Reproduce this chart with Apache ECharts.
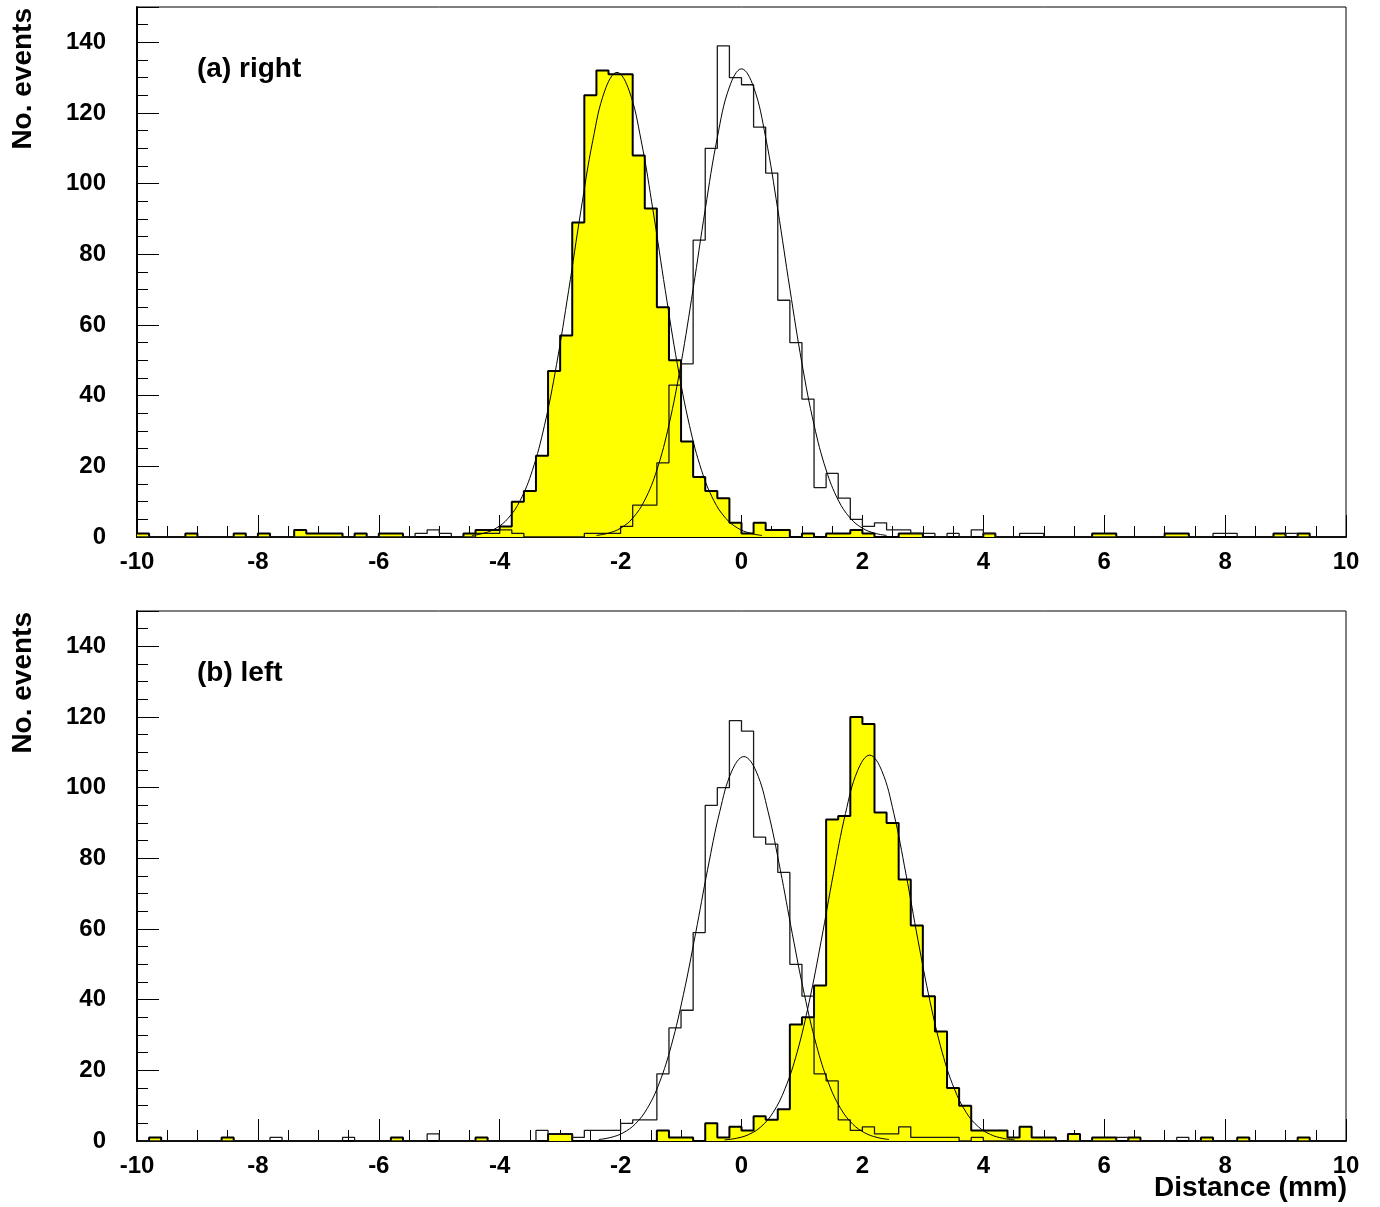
<!DOCTYPE html>
<html><head><meta charset="utf-8">
<script src="https://cdn.jsdelivr.net/npm/echarts@6/dist/echarts.min.js"></script>
<style>html,body{margin:0;padding:0;background:#fff}#c{width:1380px;height:1207px}</style>
</head><body><div id="c"></div>
<script>
// ---- binning ----
const xMin = -10, xMax = 10, binWidth = 0.2;
const xLabelInterval = 2, yLabelInterval = 20, yMax = 150;

// ---- (a) right : counts per 0.2 mm bin, from -10 to 10 ----
const topFilled = [
  1,0,0,0,1,0,0,0,1,0,
  1,0,0,2,1,1,1,0,1,0,
  1,1,0,0,0,0,0,1,2,2,
  3,10,13,23,47,57,89,125,132,131,
  131,108,93,65,50,27,17,13,11,4,
  1,4,2,2,0,1,0,1,1,2,
  1,0,0,1,1,0,0,0,0,0,
  1,0,0,0,0,0,0,0,0,1,
  1,0,0,0,0,1,1,0,0,0,
  0,0,0,0,1,0,1,0,0,0
];
const topOpen = [
  0,0,0,0,0,0,0,0,0,0,
  0,0,0,0,0,0,0,0,0,0,
  0,0,0,1,2,1,0,0,1,1,
  2,1,0,0,0,0,0,1,1,1,
  3,9,9,21,43,49,84,110,139,130,
  128,116,103,67,55,39,14,18,11,5,
  3,4,2,2,1,1,0,1,0,2,
  1,0,0,1,1,0,0,0,0,0,
  0,0,0,0,0,0,0,0,0,1,
  1,0,0,0,0,1,0,0,0,0
];
// ---- (b) left ----
const botFilled = [
  0,1,0,0,0,0,0,1,0,0,
  0,0,0,0,0,0,0,0,0,0,
  0,1,0,0,0,0,0,0,1,0,
  0,0,0,0,2,2,0,0,0,0,
  0,0,0,3,1,1,0,5,1,4,
  3,7,6,9,33,35,44,91,92,120,
  118,93,90,74,61,41,31,15,10,3,
  3,3,1,4,1,1,0,2,0,1,
  1,0,1,0,0,0,0,0,1,0,
  0,1,0,0,0,0,1,0,0,0
];
const botOpen = [
  0,0,0,0,0,0,0,0,0,0,
  0,1,0,0,0,0,0,1,0,0,
  0,0,0,0,2,0,0,0,0,0,
  0,0,0,3,2,2,1,3,3,3,
  5,6,6,19,32,37,59,95,100,119,
  116,86,84,76,50,41,19,17,6,3,
  4,2,2,4,1,1,1,1,0,1,
  0,0,0,0,0,0,0,0,0,0,
  0,1,0,0,0,0,1,0,0,0,
  0,0,0,0,0,0,0,0,0,0
];

// ---- fitted curves, points ----
const topFitFilled = [[-4.46,0.43],[-4.26,1.08],[-4.06,2.49],[-3.86,5.29],[-3.66,10.38],[-3.46,18.82],[-3.26,31.52],[-3.06,48.77],[-2.86,69.71],[-2.66,92.01],[-2.46,112.21],[-2.26,126.38],[-2.06,131.5],[-1.86,126.38],[-1.66,112.21],[-1.46,92.01],[-1.26,69.71],[-1.06,48.77],[-0.86,31.52],[-0.66,18.82],[-0.46,10.38],[-0.26,5.29],[-0.06,2.49],[0.14,1.08],[0.34,0.43]];
const topFitOpen = [[-2.4,0.44],[-2.2,1.09],[-2.0,2.50],[-1.8,5.33],[-1.6,10.45],[-1.4,18.96],[-1.2,31.76],[-1.0,49.14],[-0.8,70.24],[-0.6,92.71],[-0.4,113.06],[-0.2,127.35],[0,132.5],[0.2,127.35],[0.4,113.06],[0.6,92.71],[0.8,70.24],[1.0,49.14],[1.2,31.76],[1.4,18.96],[1.6,10.45],[1.8,5.33],[2.0,2.50],[2.2,1.09],[2.4,0.44]];
const botFitOpen = [[-2.36,0.42],[-2.16,1.02],[-1.96,2.30],[-1.76,4.78],[-1.56,9.2],[-1.36,16.4],[-1.16,27.1],[-0.96,41.5],[-0.76,58.7],[-0.56,76.9],[-0.36,93.2],[-0.16,104.7],[0.04,108.8],[0.24,104.7],[0.44,93.2],[0.64,76.9],[0.84,58.7],[1.04,41.5],[1.24,27.1],[1.44,16.4],[1.64,9.2],[1.84,4.78],[2.04,2.30],[2.24,1.02],[2.44,0.42]];
const botFitFilled = [[-0.28,0.31],[-0.08,0.78],[0.12,1.84],[0.32,4.0],[0.52,8.0],[0.72,14.8],[0.92,25.1],[1.12,39.4],[1.32,56.8],[1.52,75.6],[1.72,92.7],[1.92,104.8],[2.12,109.2],[2.32,104.8],[2.52,92.7],[2.72,75.6],[2.92,56.8],[3.12,39.4],[3.32,25.1],[3.52,14.8],[3.72,8.0],[3.92,4.0],[4.12,1.84],[4.32,0.78],[4.52,0.31]];

// ---- texts ----
const panelLabels = ['(a) right', '(b) left'];
const yTitle = 'No. events';
const xTitle = 'Distance (mm)';

const FONT = '"Liberation Sans", Arial, Helvetica, sans-serif';

function histPoints(counts) {
  const pts = [];
  for (let i = 0; i < counts.length; i++) {
    pts.push([+(xMin + i * binWidth).toFixed(2), counts[i]]);
  }
  pts.push([xMax, counts[counts.length - 1]]);
  return pts;
}

const grids = [
  {left: 137, top: 7, width: 1209, height: 530},
  {left: 137, top: 611, width: 1209, height: 530}
].map(g => Object.assign(g, {show: true, borderColor: '#000', borderWidth: 1, backgroundColor: 'transparent'}));

function mainX(g) {
  return {
    gridIndex: g, type: 'value', min: xMin, max: xMax, interval: xLabelInterval, position: 'bottom',
    axisLine: {show: true, onZero: false, lineStyle: {color: '#000', width: 2}},
    axisTick: {show: true, inside: true, length: 22, lineStyle: {color: '#000', width: 1}},
    minorTick: {show: true, splitNumber: 4, length: 11, lineStyle: {color: '#000', width: 1}},
    axisLabel: {show: true, margin: 13, color: '#000', fontSize: 24, fontWeight: 'bold', fontFamily: FONT},
    splitLine: {show: false}, minorSplitLine: {show: false}
  };
}
function mainY(g) {
  return {
    gridIndex: g, type: 'value', min: 0, max: yMax, interval: yLabelInterval, position: 'left',
    axisLine: {show: true, onZero: false, lineStyle: {color: '#000', width: 2}},
    axisTick: {show: true, inside: true, length: 22, lineStyle: {color: '#000', width: 1}},
    axisLabel: {show: true, margin: 31, color: '#000', fontSize: 24, fontWeight: 'bold', fontFamily: FONT,
      formatter: v => (v % yLabelInterval === 0 ? String(v) : '')},
    splitLine: {show: false}
  };
}
function minorY(g) {
  return {
    gridIndex: g, type: 'value', min: 0, max: yMax, interval: 5, position: 'left',
    axisLine: {show: false, onZero: false},
    axisTick: {show: true, inside: true, length: 11, lineStyle: {color: '#000', width: 1}},
    axisLabel: {show: false}, splitLine: {show: false}
  };
}

function panelSeries(xi, yi, filled, open, fitF, fitO) {
  return [
    {type: 'line', xAxisIndex: xi, yAxisIndex: yi, data: histPoints(filled), step: 'end', symbol: 'none',
     lineStyle: {color: '#000', width: 2}, areaStyle: {color: '#ffff00', opacity: 1}, z: 2, silent: true},
    {type: 'line', xAxisIndex: xi, yAxisIndex: yi, data: histPoints(open), step: 'end', symbol: 'none',
     lineStyle: {color: '#1a1a1a', width: 1.3}, z: 3, silent: true},
    {type: 'line', xAxisIndex: xi, yAxisIndex: yi, data: fitF, smooth: 0.4, symbol: 'none',
     lineStyle: {color: '#000', width: 1}, z: 4, silent: true},
    {type: 'line', xAxisIndex: xi, yAxisIndex: yi, data: fitO, smooth: 0.4, symbol: 'none',
     lineStyle: {color: '#000', width: 1}, z: 4, silent: true}
  ];
}

const option = {
  animation: false,
  backgroundColor: '#fff',
  grid: grids,
  xAxis: [mainX(0), mainX(1)],
  yAxis: [mainY(0), minorY(0), mainY(1), minorY(1)],
  series: [].concat(
    panelSeries(0, 0, topFilled, topOpen, topFitFilled, topFitOpen),
    panelSeries(1, 2, botFilled, botOpen, botFitFilled, botFitOpen)
  ),
  graphic: [
    {type: 'text', x: 23, y: 8, rotation: Math.PI / 2,
     style: {text: yTitle, fill: '#000', font: 'bold 28px ' + FONT, align: 'right', verticalAlign: 'middle'}},
    {type: 'text', x: 23, y: 612, rotation: Math.PI / 2,
     style: {text: yTitle, fill: '#000', font: 'bold 28px ' + FONT, align: 'right', verticalAlign: 'middle'}},
    {type: 'text', x: 197, y: 69,
     style: {text: panelLabels[0], fill: '#000', font: 'bold 28px ' + FONT, align: 'left', verticalAlign: 'middle'}},
    {type: 'text', x: 197, y: 673,
     style: {text: panelLabels[1], fill: '#000', font: 'bold 28px ' + FONT, align: 'left', verticalAlign: 'middle'}},
    {type: 'text', x: 1347, y: 1188,
     style: {text: xTitle, fill: '#000', font: 'bold 28px ' + FONT, align: 'right', verticalAlign: 'middle'}}
  ]
};

const chart = echarts.init(document.getElementById('c'), null, {renderer: 'canvas'});
chart.setOption(option);
</script>
</body></html>
